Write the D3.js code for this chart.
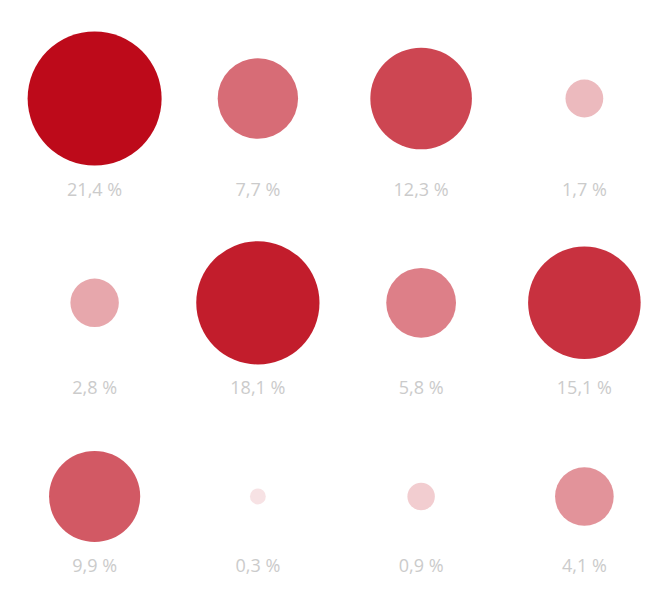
<!DOCTYPE html>
<html>
<head>
<meta charset="utf-8">
<script src="https://cdn.jsdelivr.net/npm/d3@7"></script>
<style>
  html, body { margin: 0; padding: 0; background: #ffffff; }
  svg { display: block; }
</style>
</head>
<body>
<svg id="chart" width="670" height="608"></svg>
<script>
const values = [21.4, 7.7, 12.3, 1.7, 2.8, 18.1, 5.8, 15.1, 9.9, 0.3, 0.9, 4.1];
const labels = ["21,4 %", "7,7 %", "12,3 %", "1,7 %", "2,8 %", "18,1 %", "5,8 %", "15,1 %", "9,9 %", "0,3 %", "0,9 %", "4,1 %"];
const nCols = 4;

const width = 670, height = 608;
const svg = d3.select("#chart");

const maxVal = d3.max(values);
const r = d3.scaleSqrt().domain([0, maxVal]).range([0, 67]);
const opacity = d3.scaleSqrt().domain([0, maxVal]).range([0, 1]);
const x = d3.scaleBand().domain(d3.range(nCols)).range([13, 666]);

const data = values.map((v, i) => ({ v, label: labels[i], col: i % nCols, row: Math.floor(i / nCols) }));
const nRows = Math.ceil(values.length / nCols);

// rows: fixed pitch for row tops; circles centred below the row's largest circle
const yTop = d3.scaleLinear().domain([0, 1]).range([31.5, 241.2]);
const rows = d3.range(nRows).map(k => {
  const maxR = r(d3.max(data.filter(d => d.row === k), d => d.v));
  const center = yTop(k) + maxR;
  return { center, baseline: center + maxR + 30 };
});

const g = svg.selectAll("g.cell").data(data).join("g")
  .attr("class", "cell")
  .attr("transform", d => `translate(${x(d.col) + x.bandwidth() / 2},0)`);

g.append("circle")
  .attr("cx", 0)
  .attr("cy", d => rows[d.row].center)
  .attr("r", d => r(d.v))
  .attr("fill", "#bd0a1a")
  .attr("fill-opacity", d => opacity(d.v));

g.append("text")
  .attr("x", 0)
  .attr("y", d => rows[d.row].baseline)
  .attr("text-anchor", "middle")
  .attr("font-family", "'Open Sans', 'Segoe UI', sans-serif")
  .attr("font-size", 18)
  .attr("fill", "#cbcbcb")
  .text(d => d.label);
</script>
</body>
</html>
